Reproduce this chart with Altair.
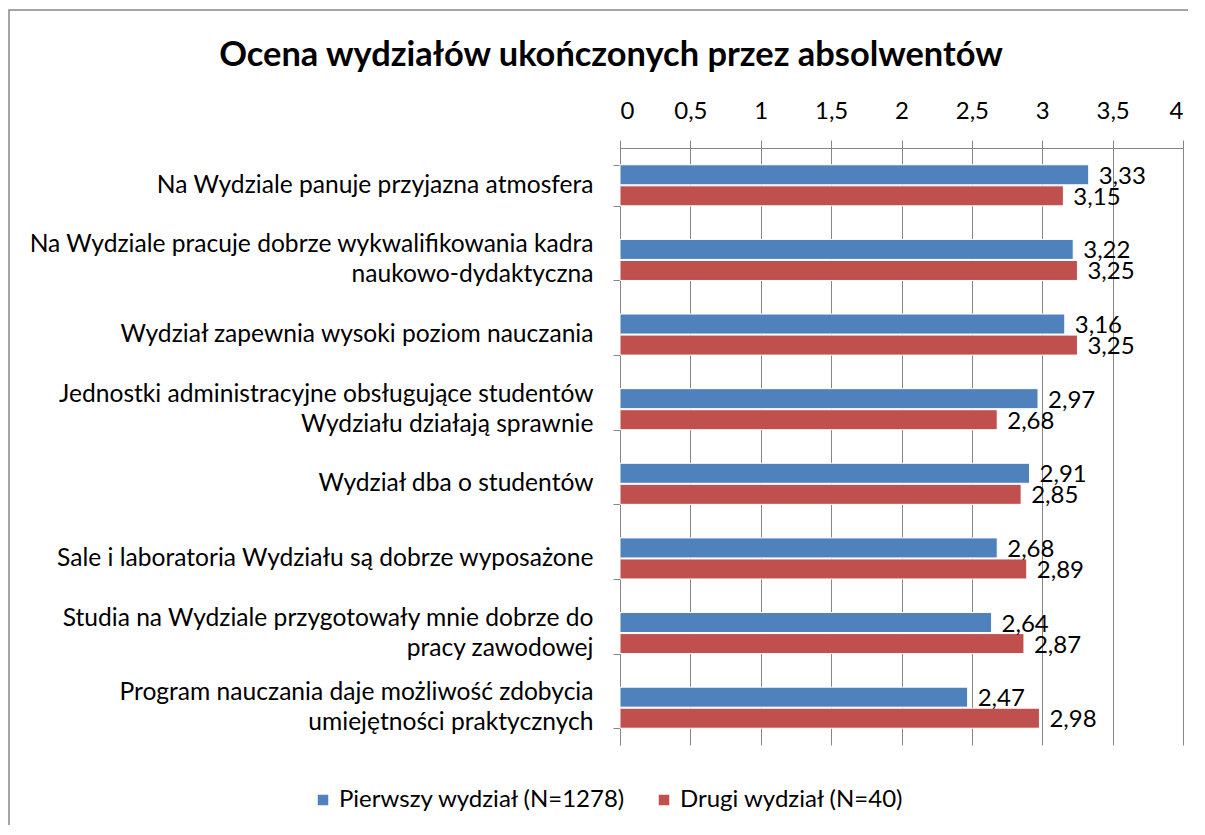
import altair as alt
import pandas as pd

title_text = "Ocena wydziałów ukończonych przez absolwentów"
categories = [
    "Na Wydziale panuje przyjazna atmosfera",
    "Na Wydziale pracuje dobrze wykwalifikowania kadra|naukowo-dydaktyczna",
    "Wydział zapewnia wysoki poziom nauczania",
    "Jednostki administracyjne obsługujące studentów|Wydziału działają sprawnie",
    "Wydział dba o studentów",
    "Sale i laboratoria Wydziału są dobrze wyposażone",
    "Studia na Wydziale przygotowały mnie dobrze do|pracy zawodowej",
    "Program nauczania daje możliwość zdobycia|umiejętności praktycznych",
]
series = ["Pierwszy wydział (N=1278)", "Drugi wydział (N=40)"]
first_values = [3.33, 3.22, 3.16, 2.97, 2.91, 2.68, 2.64, 2.47]
second_values = [3.15, 3.25, 3.25, 2.68, 2.85, 2.89, 2.87, 2.98]
colors = ["#4F81BD", "#C0504D"]
x_ticks = [0, 0.5, 1, 1.5, 2, 2.5, 3, 3.5, 4]

rows = []
for c, a, b in zip(categories, first_values, second_values):
    rows.append({"cat": c, "series": series[0], "value": a,
                 "label": f"{a:.2f}".replace(".", ",")})
    rows.append({"cat": c, "series": series[1], "value": b,
                 "label": f"{b:.2f}".replace(".", ",")})
df = pd.DataFrame(rows)

FONT = "Lato"
FS = 24
GREY = "#868686"

y_enc = alt.Y("cat:N", sort=categories, title=None,
              scale=alt.Scale(paddingInner=0.45, paddingOuter=0.225),
              axis=alt.Axis(labelExpr="split(datum.label, '|')",
                            labelFontSize=24.6, labelFont=FONT, labelColor="#000",
                            labelLineHeight=30, labelPadding=20,
                            labelOffset={"condition": {"test": "indexof(datum.label, '|') >= 0",
                                                       "value": -15},
                                         "value": 0},
                            tickBand="extent", tickSize=7, tickColor=GREY,
                            domainColor=GREY, labelLimit=0))
yoff = alt.YOffset("series:N", sort=series, scale=alt.Scale(paddingInner=0.05))
x_enc = alt.X("value:Q", title=None,
              scale=alt.Scale(domain=[0, 4], nice=False),
              axis=alt.Axis(orient="top", values=x_ticks, format="~g",
                            labelExpr="replace(datum.label, '.', ',')",
                            labelFontSize=FS, labelFont=FONT, labelColor="#000",
                            labelPadding=17, tickSize=8, tickColor=GREY,
                            domainColor=GREY, grid=True, gridColor=GREY,
                            gridWidth=1))

bars = alt.Chart(df).mark_bar(stroke="white", strokeWidth=1).encode(
    y=y_enc, yOffset=yoff, x=x_enc,
    color=alt.Color("series:N", sort=series,
                    scale=alt.Scale(domain=series, range=colors),
                    legend=alt.Legend(title=None, orient="none", direction="horizontal",
                                      legendX=-309, legendY=640,
                                      symbolType="square", symbolSize=110,
                                      symbolStrokeWidth=0, symbolOffset=0,
                                      labelFont=FONT, labelFontSize=FS,
                                      labelColor="#000", columnPadding=25,
                                      labelOffset=4, labelLimit=0)),
)

texts = alt.Chart(df).mark_text(align="left", baseline="middle", dx=10, dy=2,
                                font=FONT, fontSize=FS, color="#000").encode(
    y=alt.Y("cat:N", sort=categories), yOffset=alt.YOffset("series:N", sort=series),
    x="value:Q", text="label:N",
)

title = alt.Chart(pd.DataFrame({"t": [title_text]})).mark_text(
    align="center", baseline="middle", font=FONT, fontSize=34.4, fontWeight="bold",
    color="#000").encode(x=alt.value(-9), y=alt.value(-92), text="t:N")

border = alt.Chart(pd.DataFrame({"a": [0]})).mark_rect(
    fill=None, stroke=GREY, strokeWidth=1.5).encode(
    x=alt.value(-611), x2=alt.value(600), y=alt.value(-138), y2=alt.value(700))

chart = alt.layer(border, title, bars, texts).properties(
    width=563, height=597,
    autosize=alt.AutoSizeParams(type="none"),
    padding={"left": 612, "top": 140, "right": 5, "bottom": 80},
).configure_view(stroke=None).configure_axisY(grid=False)

chart.save("out.html", embed_options={"renderer": "svg", "actions": False})
